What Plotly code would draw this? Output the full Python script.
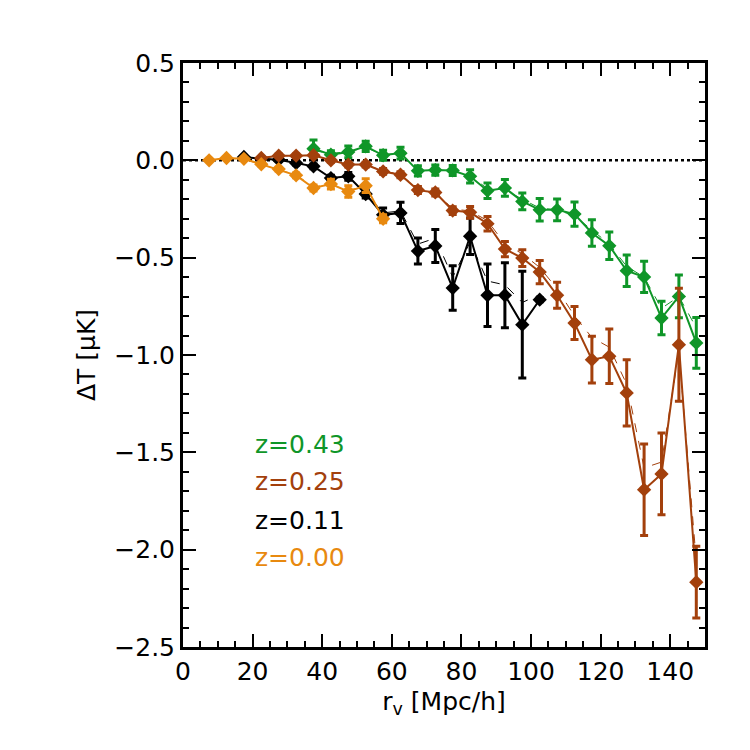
import plotly.graph_objects as go

# bins centred at 7.5, 12.5, ... 147.5 Mpc/h
x_z000 = [7.5, 12.5, 17.5, 22.5, 27.5, 32.5, 37.5, 42.5, 47.5, 52.5, 57.5]
y_z000 = [0.0, 0.012, 0.008, -0.02, -0.045, -0.077, -0.142, -0.122, -0.16, -0.13, -0.30]
e_z000 = [0.005, 0.005, 0.005, 0.008, 0.01, 0.012, 0.015, 0.025, 0.03, 0.035, 0.02]
d_z000 = [0.0, 0.01, 0.006, -0.02, -0.045, -0.075, -0.135, -0.125, -0.15, -0.14, -0.29]

x_z011 = [17.5, 22.5, 27.5, 32.5, 37.5, 42.5, 47.5, 52.5, 57.5, 62.5, 67.5, 72.5,
          77.5, 82.5, 87.5, 92.5, 97.5, 102.5]
y_z011 = [0.017, 0.008, 0.003, -0.014, -0.031, -0.091, -0.082, -0.173, -0.28, -0.27,
          -0.466, -0.44, -0.656, -0.39, -0.693, -0.693, -0.844, -0.716]
e_z011 = [0.005, 0.006, 0.008, 0.01, 0.012, 0.015, 0.02, 0.02, 0.035, 0.055,
          0.067, 0.085, 0.114, 0.094, 0.16, 0.167, 0.274, 0.01]
d_z011 = [0.017, 0.008, 0.003, -0.014, -0.03, -0.09, -0.085, -0.165, -0.27, -0.26,
          -0.43, -0.40, -0.60, -0.42, -0.62, -0.64, -0.73, -0.69]

x_z025 = [22.5, 27.5, 32.5, 37.5, 42.5, 47.5, 52.5, 57.5, 62.5, 67.5, 72.5, 77.5,
          82.5, 87.5, 92.5, 97.5, 102.5, 107.5, 112.5, 117.5, 122.5, 127.5, 132.5,
          137.5, 142.5, 147.5]
y_z025 = [0.012, 0.024, 0.024, 0.026, 0.0, -0.022, -0.022, -0.057, -0.074, -0.153,
          -0.165, -0.258, -0.267, -0.326, -0.456, -0.502, -0.574, -0.693, -0.836,
          -1.024, -1.007, -1.195, -1.692, -1.611, -0.947, -2.167]
e_z025 = [0.006, 0.008, 0.008, 0.01, 0.01, 0.012, 0.012, 0.015, 0.015, 0.018,
          0.018, 0.02, 0.03, 0.037, 0.039, 0.043, 0.06, 0.067, 0.085, 0.12, 0.14,
          0.17, 0.235, 0.21, 0.29, 0.184]
d_z025 = [0.012, 0.024, 0.024, 0.026, 0.0, -0.022, -0.022, -0.055, -0.072, -0.148,
          -0.16, -0.25, -0.26, -0.31, -0.43, -0.48, -0.55, -0.66, -0.80, -0.91,
          -0.96, -1.15, -1.58, -1.55, -0.98, -2.06]

x_z043 = [37.5, 42.5, 47.5, 52.5, 57.5, 62.5, 67.5, 72.5, 77.5, 82.5, 87.5, 92.5,
          97.5, 102.5, 107.5, 112.5, 117.5, 122.5, 127.5, 132.5, 137.5, 142.5, 147.5]
y_z043 = [0.06, 0.029, 0.043, 0.072, 0.026, 0.037, -0.054, -0.05, -0.052, -0.082,
          -0.156, -0.142, -0.211, -0.254, -0.254, -0.276, -0.373, -0.439, -0.567,
          -0.599, -0.81, -0.699, -0.938]
e_z043 = [0.045, 0.02, 0.03, 0.026, 0.026, 0.03, 0.026, 0.026, 0.026, 0.034,
          0.04, 0.043, 0.043, 0.058, 0.056, 0.062, 0.068, 0.071, 0.081, 0.08,
          0.086, 0.11, 0.13]
d_z043 = [0.05, 0.035, 0.045, 0.065, 0.03, 0.035, -0.05, -0.05, -0.05, -0.08,
          -0.145, -0.15, -0.2, -0.245, -0.255, -0.285, -0.36, -0.43, -0.545, -0.6,
          -0.76, -0.7, -0.86]

labels = ['z=0.43', 'z=0.25', 'z=0.11', 'z=0.00']
colors = ['#0f9628', '#a3400c', '#000000', '#e8890f']
label_y = [-1.46, -1.65, -1.85, -2.04]

series = [
    (x_z043, y_z043, e_z043, d_z043, colors[0]),
    (x_z011, y_z011, e_z011, d_z011, colors[2]),
    (x_z025, y_z025, e_z025, d_z025, colors[1]),
    (x_z000, y_z000, e_z000, d_z000, colors[3]),
]

fig = go.Figure()

# linha zero pontilhada
fig.add_shape(type='line', x0=0, x1=150, y0=0, y1=0, xref='x', yref='y',
              line=dict(color='black', width=2.5, dash='dot'), layer='below')

for xs, ys, es, ds, c in series:
    # linha tracejada fina
    fig.add_trace(go.Scatter(x=xs, y=ds, mode='lines',
                             line=dict(color=c, width=1, dash='dash'),
                             showlegend=False, hoverinfo='skip'))
    fig.add_trace(go.Scatter(
        x=xs, y=ys, mode='lines+markers',
        line=dict(color=c, width=2),
        marker=dict(symbol='diamond', size=11, color=c),
        error_y=dict(type='data', array=es, color=c, thickness=3, width=4),
        showlegend=False))

for lab, c, ly in zip(labels, colors, label_y):
    fig.add_annotation(x=20, y=ly, xref='x', yref='y', text=lab, showarrow=False,
                       xanchor='left', yanchor='middle',
                       font=dict(color=c, size=25))

axis_common = dict(showline=True, linecolor='black', linewidth=3, mirror='ticks',
                   ticks='inside', ticklen=13, tickwidth=2, tickcolor='black',
                   showgrid=False, zeroline=False,
                   tickfont=dict(size=25, color='black'))

fig.update_layout(
    width=750, height=750,
    margin=dict(l=175, r=53, t=55, b=111),
    plot_bgcolor='white', paper_bgcolor='white',
    font=dict(family='DejaVu Sans', color='black'),
    xaxis=dict(range=[0, 150], dtick=20, tick0=0,
               minor=dict(dtick=5, ticklen=6, tickwidth=2, ticks='inside', tickcolor='black'),
               title=dict(text='r<sub>v</sub> [Mpc/h]', font=dict(size=25), standoff=8),
               **axis_common),
    yaxis=dict(range=[-2.5, 0.5], dtick=0.5, tick0=0, tickformat='.1f',
               minor=dict(dtick=0.1, ticklen=6, tickwidth=2, ticks='inside', tickcolor='black'),
               title=dict(text='ΔT [μK]', font=dict(size=25), standoff=12),
               **axis_common),
)

fig.write_html("out.html")
